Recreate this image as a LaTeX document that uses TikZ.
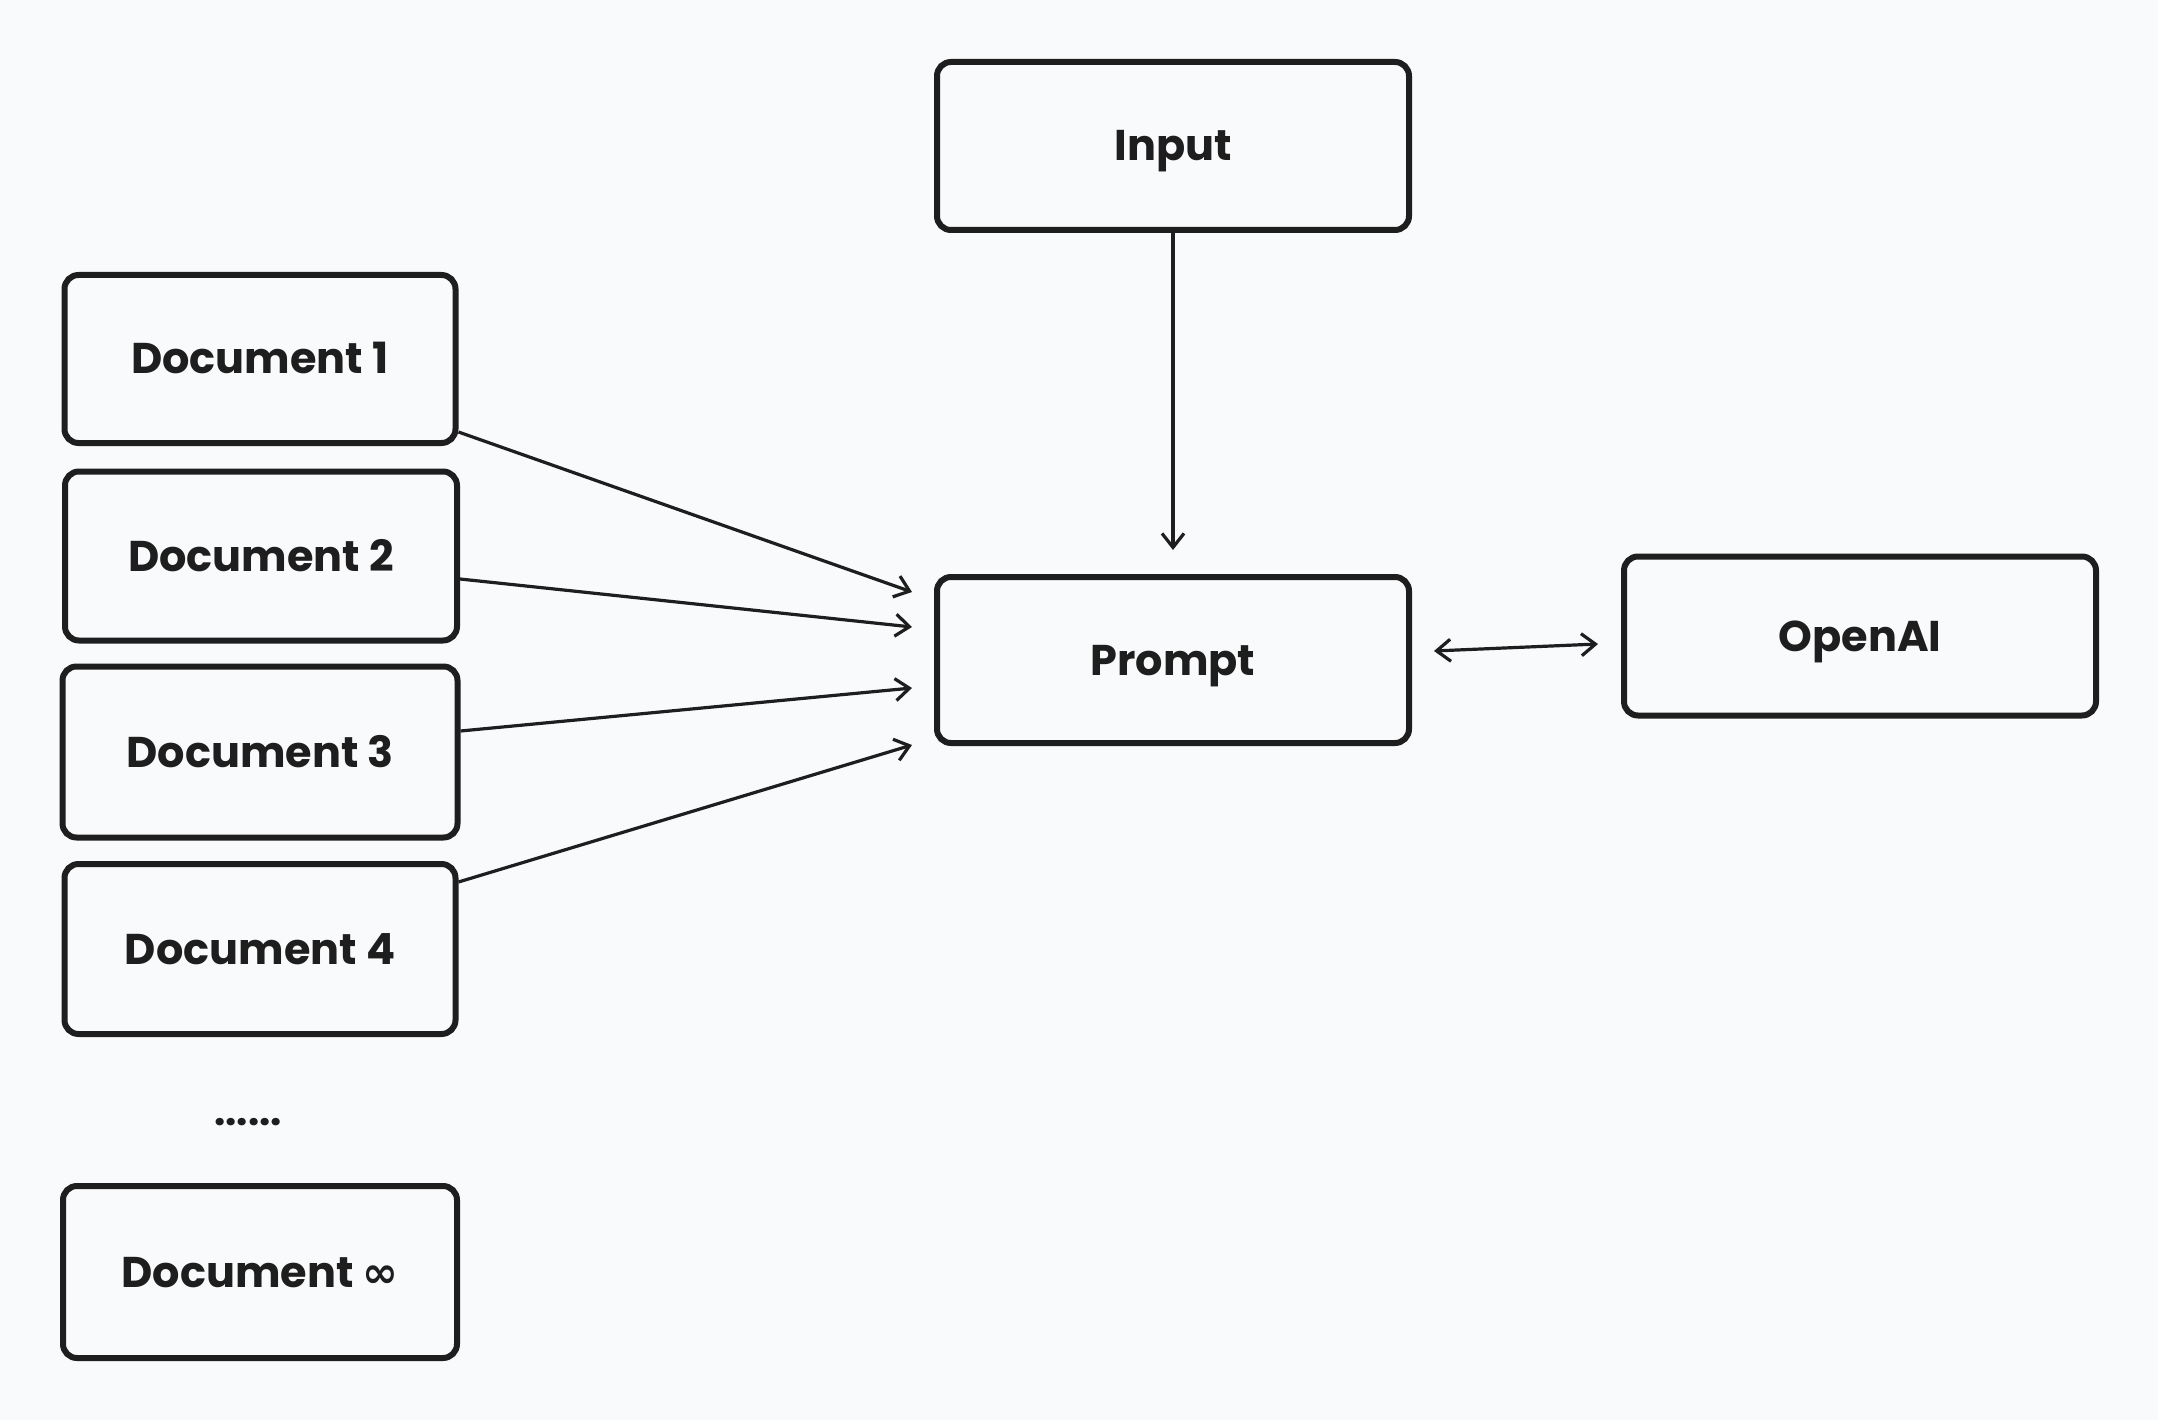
\documentclass[tikz,border=0pt]{standalone}
\usepackage{fontspec}
\setmainfont{Poppins}
\newfontfamily\djv{DejaVu Sans}
\usetikzlibrary{arrows.meta}
\definecolor{bg}{HTML}{F9FAFC}
\definecolor{ink}{HTML}{1E1E1E}
\tikzset{
  box/.style={draw=ink, line width=6pt, rounded corners=14pt, fill=bg, inner sep=0pt,
    text=ink, font=\fontsize{43}{50}\selectfont\bfseries, text height=30pt, text depth=0pt},
  conn/.style={draw=ink, line width=3.2pt, -{Straight Barb[length=14pt,width=22pt,line width=3.2pt]}},
  biconn/.style={draw=ink, line width=3.2pt, {Straight Barb[length=14pt,width=22pt,line width=3.2pt]}-{Straight Barb[length=14pt,width=22pt,line width=3.2pt]}}
}
\begin{document}
\begin{tikzpicture}[x=1pt,y=-1pt]
\useasboundingbox[fill=bg] (0,0) rectangle (2158,1420);
\node[box, minimum width=472pt, minimum height=168pt] (in) at (1173,146) {Input};
\node[box, minimum width=391pt, minimum height=168pt] (d1) at (260,359) {Document 1};
\node[box, minimum width=392pt, minimum height=169pt] (d2) at (261,556) {Document 2};
\node[box, minimum width=395pt, minimum height=171pt] (d3) at (260,752) {Document 3};
\node[box, minimum width=391pt, minimum height=170pt] (d4) at (260,949) {Document 4};
\node[text=ink, font=\fontsize{40}{46}\selectfont\bfseries] (dots) at (248,1122) {......};
\node[box, minimum width=394pt, minimum height=172pt] (dn) at (260,1272) {Document {\djv\bfseries ∞}};
\node[box, minimum width=472pt, minimum height=166pt] (p) at (1173,660) {Prompt};
\node[box, minimum width=472pt, minimum height=159pt] (oa) at (1860,636) {OpenAI};

\draw[conn] ([yshift=14pt]d1.south east) -- ([xshift=-22pt,yshift=-18pt]p.north west);
\draw[conn] ([yshift=-23pt]d2.east) -- ([xshift=-22pt,yshift=-53pt]p.north west);
\draw[conn] ([yshift=21pt]d3.east) -- ([xshift=-22pt,yshift=58pt]p.south west);
\draw[conn] ([yshift=-21pt]d4.north east) -- ([xshift=-22pt,yshift=1pt]p.south west);
\draw[conn] (in.south) -- ([yshift=24pt]p.north);
\draw[biconn] ([xshift=22pt,yshift=9pt]p.east) -- ([xshift=-23pt,yshift=-8pt]oa.west);
\end{tikzpicture}
\end{document}
